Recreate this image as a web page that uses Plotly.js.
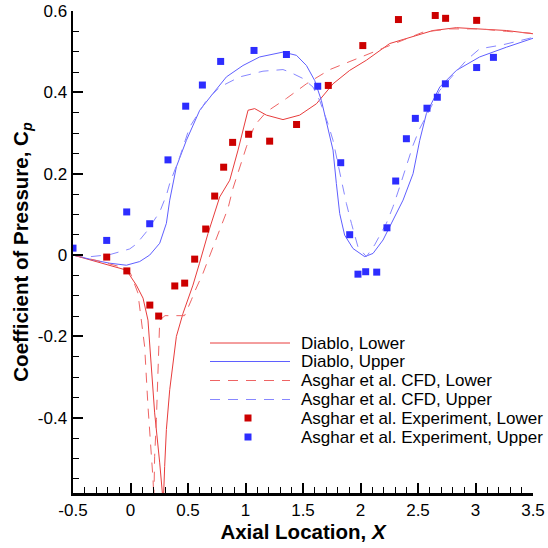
<!DOCTYPE html>
<html><head><meta charset="utf-8">
<script src="https://cdn.plot.ly/plotly-3.0.1.min.js"></script>
<style>html,body{margin:0;padding:0;background:#fff}#chart{width:548px;height:548px}</style>
</head><body><div id="chart"></div>
<script>
// Diablo, Lower (solid red)
const diabloLowerX = [-0.5,-0.355,-0.181,-0.036,0.051,0.109,0.152,0.182,0.21,0.254,0.285,0.297,0.312,0.341,0.399,0.457,0.543,0.6,0.674,0.776,0.863,0.935,1.022,1.08,1.182,1.326,1.471,1.617,1.761,1.906,2.051,2.254,2.399,2.63,2.834,3.036,3.269,3.5];
const diabloLowerY = [0,-0.012,-0.025,-0.037,-0.074,-0.106,-0.16,-0.266,-0.388,-0.511,-0.61,-0.52,-0.429,-0.331,-0.2,-0.143,-0.074,-0.02,0.053,0.143,0.184,0.258,0.356,0.36,0.344,0.333,0.344,0.372,0.421,0.454,0.479,0.52,0.532,0.552,0.559,0.556,0.552,0.544];
// Diablo, Upper (solid blue)
const diabloUpperX = [-0.5,-0.326,-0.181,-0.036,0.08,0.167,0.254,0.312,0.341,0.399,0.486,0.602,0.717,0.834,0.978,1.123,1.326,1.443,1.53,1.602,1.66,1.717,1.761,1.79,1.819,1.862,1.935,2.037,2.109,2.196,2.269,2.37,2.457,2.515,2.573,2.689,2.834,3.036,3.269,3.5];
const diabloUpperY = [0,-0.012,-0.02,-0.025,-0.016,0,0.029,0.078,0.135,0.217,0.282,0.356,0.397,0.438,0.466,0.487,0.499,0.491,0.466,0.429,0.38,0.315,0.258,0.176,0.102,0.049,0.016,-0.004,0.004,0.037,0.078,0.135,0.2,0.282,0.348,0.413,0.454,0.487,0.511,0.533];
// Asghar et al. CFD, Lower (dashed red)
const cfdLowerX = [-0.5,-0.3,-0.1,0.0,0.064,0.08,0.123,0.152,0.182,0.196,0.203,0.21,0.225,0.239,0.248,0.254,0.3,0.47,0.53,0.558,0.63,0.695,0.782,0.848,0.891,1.008,1.08,1.182,1.356,1.53,1.733,1.906,2.08,2.254,2.543,2.775,3.036,3.269,3.5];
const cfdLowerY = [0,-0.013,-0.028,-0.045,-0.093,-0.131,-0.225,-0.372,-0.487,-0.552,-0.6,-0.495,-0.405,-0.307,-0.209,-0.16,-0.149,-0.149,-0.11,-0.09,-0.045,0.004,0.069,0.115,0.164,0.266,0.319,0.352,0.385,0.421,0.456,0.476,0.496,0.515,0.548,0.556,0.556,0.55,0.545];
// Asghar et al. CFD, Upper (dashed blue)
const cfdUpperX = [-0.5,-0.35,-0.181,-0.007,0.051,0.138,0.254,0.312,0.341,0.428,0.515,0.602,0.66,0.776,0.95,1.152,1.326,1.384,1.5,1.587,1.645,1.717,1.761,1.834,1.877,1.921,1.978,2.051,2.123,2.225,2.283,2.341,2.399,2.457,2.515,2.689,2.921,3.036,3.239,3.5];
const cfdUpperY = [0,-0.004,0.001,0.015,0.027,0.057,0.106,0.147,0.176,0.241,0.315,0.356,0.38,0.413,0.438,0.452,0.456,0.45,0.434,0.413,0.38,0.323,0.282,0.184,0.127,0.078,0.02,-0.004,0.025,0.078,0.119,0.168,0.217,0.27,0.311,0.405,0.479,0.507,0.517,0.535];
// Asghar et al. Experiment, Lower (red squares)
const expLowerX = [-0.207,-0.032,0.168,0.245,0.385,0.471,0.558,0.654,0.732,0.81,0.888,1.027,1.21,1.444,1.72,2.02,2.33,2.65,2.74,3.01];
const expLowerY = [-0.005,-0.039,-0.123,-0.15,-0.076,-0.069,-0.01,0.064,0.145,0.216,0.277,0.297,0.28,0.321,0.417,0.515,0.579,0.589,0.582,0.577];
// Asghar et al. Experiment, Upper (blue squares)
const expUpperX = [-0.5,-0.207,-0.033,0.167,0.326,0.48,0.625,0.784,1.074,1.356,1.628,1.828,1.906,1.978,2.045,2.141,2.23,2.306,2.399,2.477,2.578,2.668,2.738,3.01,3.156];
const expUpperY = [0.017,0.036,0.106,0.077,0.234,0.366,0.418,0.476,0.503,0.493,0.415,0.227,0.05,-0.047,-0.041,-0.042,0.067,0.182,0.286,0.336,0.361,0.388,0.421,0.461,0.486];

const xTickVals = [-0.5,0,0.5,1,1.5,2,2.5,3,3.5];
const xTickText = ['-0.5','0','0.5','1','1.5','2','2.5','3','3.5'];
const yTickVals = [-0.4,-0.2,0,0.2,0.4,0.6];
const yTickText = ['-0.4','-0.2','0','0.2','0.4','0.6'];

const seriesNames = ['Diablo, Lower','Diablo, Upper','Asghar et al. CFD, Lower','Asghar et al. CFD, Upper','Asghar et al. Experiment, Lower','Asghar et al. Experiment, Upper'];

const RED_SOLID = 'rgb(232,60,60)', RED_DASH = 'rgb(238,100,100)';
const BLUE_SOLID = 'rgb(95,95,255)', BLUE_DASH = 'rgb(135,135,255)';
const RED_MK = 'rgb(204,0,0)', BLUE_MK = 'rgb(45,45,255)';
const DASH = '10px,8px';

const traces = [
  {x: diabloLowerX, y: diabloLowerY, name: seriesNames[0], mode:'lines', line:{color:RED_SOLID,width:1}},
  {x: diabloUpperX, y: diabloUpperY, name: seriesNames[1], mode:'lines', line:{color:BLUE_SOLID,width:1}},
  {x: cfdLowerX, y: cfdLowerY, name: seriesNames[2], mode:'lines', line:{color:RED_DASH,width:1,dash:DASH}},
  {x: cfdUpperX, y: cfdUpperY, name: seriesNames[3], mode:'lines', line:{color:BLUE_DASH,width:1,dash:DASH}},
  {x: expLowerX, y: expLowerY, name: seriesNames[4], mode:'markers', marker:{symbol:'square',size:7,color:RED_MK,line:{width:0}}},
  {x: expUpperX, y: expUpperY, name: seriesNames[5], mode:'markers', marker:{symbol:'square',size:7,color:BLUE_MK,line:{width:0}}}
];
traces.forEach(t => { t.showlegend = false; t.type = 'scatter'; });

// custom legend built from the traces
const M = {l:73, r:15, t:11, b:55};
const W = 548, H = 548;
const PW = W - M.l - M.r, PH = H - M.t - M.b;
const px2x = p => (p - M.l) / PW;
const py2y = p => (H - M.b - p) / PH;
const legRows = [343, 361.5, 380.5, 399.5, 418, 437];
const shapes = [], annotations = [];
traces.forEach((t, i) => {
  const yy = py2y(legRows[i]);
  if (t.mode === 'lines') {
    shapes.push({type:'line', xref:'paper', yref:'paper', x0:px2x(210), x1:px2x(290), y0:yy, y1:yy,
      line:{color:t.line.color, width:1, dash:t.line.dash || 'solid'}});
  } else {
    const h = 3.5;
    shapes.push({type:'rect', xref:'paper', yref:'paper', x0:px2x(248-h), x1:px2x(248+h), y0:py2y(legRows[i]+h), y1:py2y(legRows[i]-h),
      fillcolor:t.marker.color, line:{width:0}});
  }
  annotations.push({xref:'paper', yref:'paper', x:px2x(299), y:yy, xanchor:'left', yanchor:'middle',
    text:t.name, showarrow:false, font:{size:17, color:'#000'}});
});

const axisCommon = {
  showgrid:false, zeroline:false, showline:true, linecolor:'#000', linewidth:2.5, mirror:false,
  ticks:'inside', ticklen:10, tickwidth:2, tickcolor:'#000',
  tickfont:{size:17, color:'#000'}, tickmode:'array'
};
const layout = {
  width:W, height:H, margin:M, paper_bgcolor:'#fff', plot_bgcolor:'#fff',
  font:{family:'"Liberation Sans", Arial, sans-serif', color:'#000'},
  showlegend:false,
  xaxis: Object.assign({}, axisCommon, {
    range:[-0.5,3.5], tickvals:xTickVals, ticktext:xTickText,
    minor:{dtick:0.1, tick0:-0.5, ticks:'inside', ticklen:6, tickwidth:1, tickcolor:'#000'},
    title:{text:'<b>Axial Location, <i>X</i></b>', font:{size:20.5}, standoff:4}
  }),
  yaxis: Object.assign({}, axisCommon, {
    range:[-0.585,0.6], tickvals:yTickVals, ticktext:yTickText,
    minor:{dtick:0.05, tick0:0, ticks:'inside', ticklen:6, tickwidth:1, tickcolor:'#000'},
    title:{text:'<b>Coefficient of Pressure, C<sub><i>p</i></sub></b>', font:{size:20.5}, standoff:4}
  }),
  shapes:shapes, annotations:annotations
};
Plotly.newPlot('chart', traces, layout, {staticPlot:true, displayModeBar:false});
</script></body></html>
